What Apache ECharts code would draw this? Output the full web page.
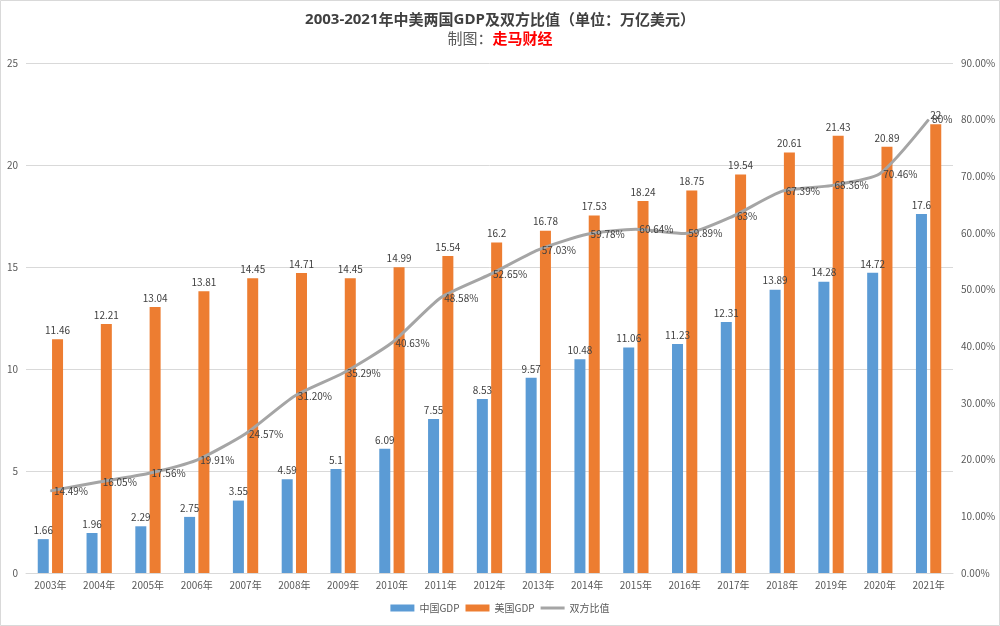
<!DOCTYPE html>
<html><head><meta charset="utf-8">
<script src="https://cdn.jsdelivr.net/npm/echarts@6/dist/echarts.min.js"></script>
<style>html,body{margin:0;padding:0;background:#fff}#c{width:1000px;height:626px}</style>
</head><body><div id="c"></div>
<script>
const years = ['2003年','2004年','2005年','2006年','2007年','2008年','2009年','2010年','2011年','2012年','2013年','2014年','2015年','2016年','2017年','2018年','2019年','2020年','2021年'];
const chinaGDP = [1.66,1.96,2.29,2.75,3.55,4.59,5.1,6.09,7.55,8.53,9.57,10.48,11.06,11.23,12.31,13.89,14.28,14.72,17.6];
const usGDP = [11.46,12.21,13.04,13.81,14.45,14.71,14.45,14.99,15.54,16.2,16.78,17.53,18.24,18.75,19.54,20.61,21.43,20.89,22];
const ratio = [14.49,16.05,17.56,19.91,24.57,31.20,35.29,40.63,48.58,52.65,57.03,59.78,60.64,59.89,63,67.39,68.36,70.46,80];
const ratioLabels = ['14.49%','16.05%','17.56%','19.91%','24.57%','31.20%','35.29%','40.63%','48.58%','52.65%','57.03%','59.78%','60.64%','59.89%','63%','67.39%','68.36%','70.46%','80%'];

const chart = echarts.init(document.getElementById('c'), null, {renderer:'canvas'});
const lblColor = '#404040';
const cjk = '"Noto Sans CJK SC", "Noto Sans", sans-serif';
chart.setOption({
  backgroundColor:'#fff',
  animation:false,
  textStyle:{fontFamily:cjk},
  graphic:[{type:'rect',shape:{x:0.5,y:0.5,width:999,height:625},style:{fill:'none',stroke:'#d9d9d9',lineWidth:1},silent:true}],
  title:{
    left:'center', top:7, itemGap:4,
    text:'{b|2003-2021}{n|年中美两国}{b|GDP}{n|及双方比值（单位：万亿美元）}',
    subtext:'{g|制图：}{r|走马财经}',
    textStyle:{rich:{
      b:{fontFamily:'"Open Sans", sans-serif',fontWeight:'bold',fontSize:15,color:'#404040'},
      n:{fontFamily:cjk,fontSize:15,color:'#404040'}
    }},
    subtextStyle:{rich:{
      g:{fontFamily:cjk,fontSize:15,color:'#595959'},
      r:{fontFamily:cjk,fontSize:15,color:'#ff0000',fontWeight:'bold'}
    }}
  },
  legend:{
    bottom:8, left:'center', itemWidth:24, itemHeight:7, itemGap:6,
    textStyle:{fontSize:10,color:'#595959'},
    data:[{name:'中国GDP',icon:'rect'},{name:'美国GDP',icon:'rect'},
      {name:'双方比值',icon:'path://M0,0L24,0L24,3L0,3Z',itemStyle:{color:'#a5a5a5'}}]
  },
  grid:{left:26,right:47,top:63,bottom:53},
  xAxis:{type:'category',data:years,
    axisLine:{lineStyle:{color:'#d9d9d9'}},axisTick:{show:false},
    axisLabel:{color:'#595959',fontSize:10,margin:7}},
  yAxis:[
    {type:'value',min:0,max:25,interval:5,
      axisLine:{show:false},axisTick:{show:false},
      axisLabel:{color:'#595959',fontSize:10,margin:8},
      splitLine:{lineStyle:{color:'#d9d9d9'}}},
    {type:'value',min:0,max:90,interval:10,position:'right',
      axisLine:{show:false},axisTick:{show:false},
      axisLabel:{color:'#595959',fontSize:10,margin:8,formatter:v=>v.toFixed(2)+'%'},
      splitLine:{show:false}}
  ],
  series:[
    {name:'中国GDP',type:'bar',data:chinaGDP,barWidth:11,barGap:'30%',
      itemStyle:{color:'#5b9bd5'},
      label:{show:true,position:'top',color:lblColor,fontSize:10,distance:4}},
    {name:'美国GDP',type:'bar',data:usGDP,barWidth:11,
      itemStyle:{color:'#ed7d31'},
      label:{show:true,position:'top',color:lblColor,fontSize:10,distance:4}},
    {name:'双方比值',type:'line',yAxisIndex:1,data:ratio,smooth:0.2,
      symbol:'circle',symbolSize:1,showSymbol:true,
      lineStyle:{color:'#a5a5a5',width:3},itemStyle:{color:'#a5a5a5'},
      label:{show:true,position:'right',color:lblColor,fontSize:10,distance:3,
        formatter:p=>ratioLabels[p.dataIndex]},
      labelLayout:{hideOverlap:false},
      z:5}
  ]
});
</script></body></html>
